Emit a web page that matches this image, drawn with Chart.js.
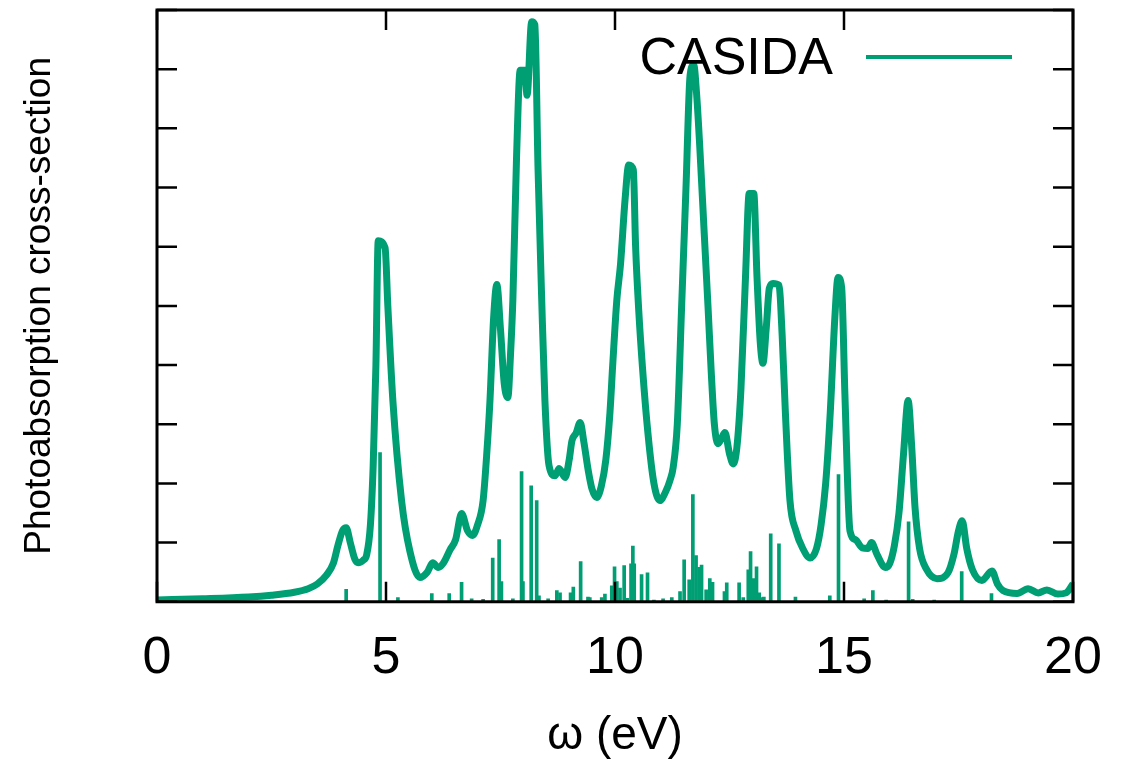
<!DOCTYPE html>
<html>
<head>
<meta charset="utf-8">
<title>Photoabsorption cross-section</title>
<script src="https://cdn.jsdelivr.net/npm/chart.js@4.4.1/dist/chart.umd.min.js"></script>
<style>
  html, body { margin: 0; padding: 0; background: #fff; }
  #wrap { width: 1132px; height: 762px; position: relative; }
</style>
</head>
<body>
<div id="wrap"><canvas id="spectrum"></canvas></div>
<script>
// Broadened spectrum (omega in eV, arbitrary units)
const curveX = [
  0.0, 1.0, 2.0, 2.5, 3.0, 3.3, 3.5, 3.7, 3.85, 3.95, 4.05, 4.13, 4.22, 4.32, 4.39,
  4.5, 4.58, 4.66, 4.72, 4.78, 4.83, 4.98, 5.04, 5.15, 5.34, 5.52, 5.74, 5.9, 6.02, 6.14,
  6.25, 6.4, 6.52, 6.65, 6.78, 6.89, 7.0, 7.12, 7.2, 7.27, 7.35, 7.42, 7.5, 7.58,
  7.66, 7.72, 7.77, 7.85, 7.93, 8.03, 8.08, 8.18, 8.25, 8.32, 8.4, 8.47, 8.56, 8.69,
  8.78, 8.91, 9.0, 9.06, 9.15, 9.24, 9.32, 9.42, 9.5, 9.6, 9.7, 9.8, 9.89, 9.95,
  10.04, 10.12, 10.22, 10.3, 10.4, 10.45, 10.52, 10.6, 10.72, 10.85, 10.98,
  11.1, 11.2, 11.27, 11.36, 11.46, 11.55, 11.64, 11.72, 11.78, 11.85, 11.95, 12.03, 12.1,
  12.17, 12.25, 12.32, 12.4, 12.5, 12.58, 12.66, 12.75, 12.85, 12.93, 13.03, 13.1,
  13.17, 13.23, 13.3, 13.37, 13.45, 13.58, 13.65, 13.72, 13.82, 13.95, 14.1, 14.26,
  14.4, 14.5, 14.6, 14.7, 14.8, 14.87, 14.95, 15.02, 15.13, 15.25, 15.4, 15.52, 15.6,
  15.72, 15.9, 16.0, 16.1, 16.2, 16.3, 16.4, 16.48, 16.55, 16.65, 16.8, 17.03, 17.27,
  17.4, 17.5, 17.58, 17.68, 17.8, 18.01, 18.23, 18.35, 18.47, 18.78, 19.02, 19.24,
  19.43, 19.67, 19.85, 20.0
];
const curveY = [
  0.03, 0.05, 0.08, 0.11, 0.16, 0.22, 0.3, 0.45, 0.65, 0.95, 1.2, 1.25, 1.0, 0.72, 0.66,
  0.7, 0.8, 1.3, 2.3, 4.0, 6.1, 5.98, 5.0, 3.4, 1.71, 0.86, 0.41, 0.5, 0.66, 0.58,
  0.65, 0.88, 1.05, 1.49, 1.2, 1.12, 1.3, 1.71, 2.5, 3.4, 4.8, 5.36, 4.6, 3.7,
  3.45, 4.2, 5.1, 7.5, 8.98, 8.98, 8.56, 9.8, 9.75, 7.3, 5.1, 3.4, 2.3, 2.13,
  2.25, 2.1, 2.4, 2.72, 2.85, 3.03, 2.7, 2.2, 1.9, 1.76, 1.95, 2.4, 3.2, 4.0,
  5.1, 5.7, 6.8, 7.38, 7.3, 6.0, 4.9, 3.96, 2.84, 2.0, 1.71,
  1.85, 2.05, 2.27, 3.0, 5.1, 7.0, 8.9, 9.07, 8.6, 7.7, 6.2, 5.0, 3.9,
  3.0, 2.67, 2.75, 2.86, 2.5, 2.33, 2.6, 3.6, 5.5, 6.9, 6.9, 5.5,
  4.4, 4.03, 4.6, 5.3, 5.38, 5.35, 4.5, 3.2, 1.71, 1.2, 0.9, 0.74,
  0.9, 1.3, 2.0, 3.2, 4.8, 5.48, 5.3, 3.5, 1.2, 1.05, 0.91, 0.9, 1.0,
  0.8, 0.58, 0.65, 0.95, 1.5, 2.5, 3.4, 2.6, 1.6, 0.9, 0.55, 0.39, 0.49,
  0.8, 1.2, 1.37, 0.9, 0.55, 0.36, 0.52, 0.3, 0.19, 0.14, 0.22, 0.15,
  0.2, 0.13, 0.15, 0.3
];

// Oscillator strengths (stick spectrum)
const stickX = [
  4.13, 4.87, 5.26, 6.0, 6.38, 6.65, 6.87, 7.12, 7.33, 7.47, 7.52, 7.77, 7.96, 7.99,
  8.17, 8.29, 8.34, 8.54, 8.73, 8.8, 9.03, 9.09, 9.25, 9.41, 9.45, 9.71, 9.78, 9.93,
  9.99, 10.04, 10.11, 10.2, 10.27, 10.35, 10.39, 10.42, 10.58, 10.71, 10.85, 11.05,
  11.24, 11.42, 11.51, 11.62, 11.7, 11.77, 11.84, 11.89, 11.99, 12.07, 12.13, 12.39,
  12.44, 12.71, 12.8, 12.91, 12.96, 13.02, 13.09, 13.15, 13.2, 13.25, 13.4, 13.58,
  13.94, 14.69, 14.88, 15.44, 15.63, 15.92, 16.41, 16.5, 16.97, 17.57, 18.22
];
const stickY = [
  0.21, 2.52, 0.07, 0.14, 0.14, 0.33, 0.05, 0.04, 0.74, 1.05, 0.34, 0.05, 2.2, 0.34,
  1.96, 1.71, 0.1, 0.05, 0.19, 0.15, 0.15, 0.25, 0.68, 0.08, 0.07, 0.07, 0.13, 0.27,
  0.59, 0.34, 0.23, 0.61, 0.06, 0.64, 0.94, 0.64, 0.46, 0.49, 0.03, 0.05,
  0.07, 0.17, 0.71, 0.37, 1.81, 0.78, 0.58, 0.62, 0.2, 0.39, 0.33, 0.17,
  0.32, 0.32, 0.07, 0.54, 0.85, 0.39, 0.59, 0.15, 0.07, 0.08, 1.15, 0.98,
  0.08, 0.1, 2.15, 0.05, 0.19, 0.03, 1.35, 0.04, 0.03, 0.51, 0.14
];

const xTicks = [0, 5, 10, 15, 20];
const green = "#009e73";
const fontFamily = "'Liberation Sans', Arial, Helvetica, sans-serif";

// Frame with inward ticks (gnuplot style) plus the key in the top right
const framePlugin = {
  id: "frame",
  afterDatasetsDraw(chart) {
    const { ctx, chartArea: a, scales } = chart;
    ctx.save();
    ctx.strokeStyle = "#000";
    ctx.lineWidth = 2.5;
    scales.x.ticks.forEach((t) => {
      const px = scales.x.getPixelForValue(t.value);
      ctx.beginPath();
      ctx.moveTo(px, a.bottom);
      ctx.lineTo(px, a.bottom - 20);
      ctx.moveTo(px, a.top);
      ctx.lineTo(px, a.top + 20);
      ctx.stroke();
    });
    scales.y.ticks.forEach((t) => {
      const py = scales.y.getPixelForValue(t.value);
      ctx.beginPath();
      ctx.moveTo(a.left, py);
      ctx.lineTo(a.left + 20, py);
      ctx.moveTo(a.right, py);
      ctx.lineTo(a.right - 20, py);
      ctx.stroke();
    });
    ctx.lineWidth = 3;
    ctx.strokeRect(a.left, a.top, a.right - a.left, a.bottom - a.top);

    // key
    const ds = chart.data.datasets[0];
    ctx.font = "52px " + fontFamily;
    ctx.fillStyle = "#000";
    ctx.textAlign = "right";
    ctx.textBaseline = "middle";
    ctx.fillText(ds.label, a.right - 240, a.top + 50);
    ctx.strokeStyle = green;
    ctx.lineWidth = 4;
    ctx.beginPath();
    ctx.moveTo(a.right - 207, a.top + 47);
    ctx.lineTo(a.right - 61, a.top + 47);
    ctx.stroke();
    ctx.restore();
  },
};

const ctx = document.getElementById("spectrum").getContext("2d");
const spectrumChart = new Chart(ctx, {
  type: "line",
  data: {
    datasets: [
      {
        label: "CASIDA",
        data: curveX.map((x, i) => ({ x: x, y: curveY[i] })),
        borderColor: green,
        borderWidth: 7,
        pointRadius: 0,
        cubicInterpolationMode: "monotone",
        fill: false,
        order: 1,
      },
      {
        type: "bar",
        label: "sticks",
        data: stickX.map((x, i) => ({ x: x, y: stickY[i] })),
        backgroundColor: green,
        borderWidth: 0,
        barThickness: 3,
        order: 2,
      },
    ],
  },
  options: {
    responsive: true,
    maintainAspectRatio: false,
    animation: false,
    layout: { padding: { left: 4, right: 59, top: 10, bottom: 0 } },
    plugins: {
      legend: { display: false },
      tooltip: { enabled: false },
    },
    scales: {
      x: {
        type: "linear",
        min: 0,
        max: 20,
        offset: false,
        afterBuildTicks: (scale) => {
          scale.ticks = xTicks.map((v) => ({ value: v }));
        },
        grid: { display: false, drawTicks: false },
        border: { display: false },
        ticks: {
          color: "#000",
          padding: 29,
          font: { family: fontFamily, size: 52, lineHeight: 1.07 },
        },
        title: {
          display: true,
          text: "ω (eV)",
          color: "#000",
          font: { family: fontFamily, size: 46, lineHeight: 1.1 },
          padding: { top: -4, bottom: 0 },
        },
      },
      y: {
        min: 0,
        max: 10,
        ticks: { display: false, stepSize: 1 },
        grid: { display: false, drawTicks: false },
        border: { display: false },
        title: {
          display: true,
          text: "Photoabsorption cross-section",
          color: "#000",
          font: { family: fontFamily, size: 37 },
          padding: { top: 14, bottom: 94.6 },
        },
      },
    },
  },
  plugins: [framePlugin],
});
</script>
</body>
</html>
